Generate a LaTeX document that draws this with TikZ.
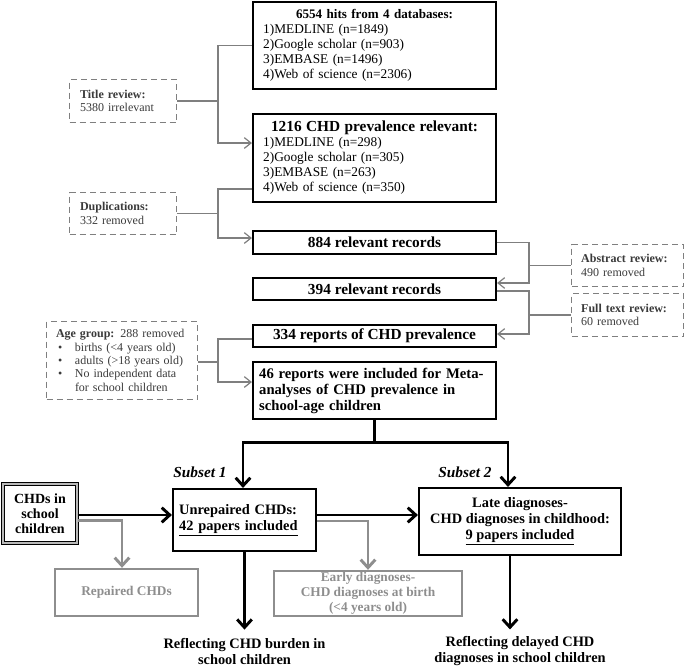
\documentclass[tikz,border=0pt]{standalone}
\usepackage{fontspec}
\setmainfont{Liberation Serif}
\usetikzlibrary{arrows.meta,calc}
\definecolor{lgray}{HTML}{7F7F7F}
\definecolor{tgray}{HTML}{3A3A3A}
\definecolor{bgray}{HTML}{8E8E8E}
\begin{document}
\begin{tikzpicture}[x=0.75pt,y=-0.75pt,
  mainbox/.style={draw=black, line width=1.6pt, inner sep=0pt, minimum width=182.25pt, font=\fontsize{11.5}{12}\selectfont\bfseries},
  dbox/.style={draw=lgray, dash pattern=on 4.5pt off 3pt, line width=0.9pt, inner sep=0pt, text=tgray, align=left, font=\fontsize{9}{10}\selectfont},
  bbox/.style={draw=black, line width=1.6pt, inner sep=0pt, font=\fontsize{10.8}{12}\selectfont\bfseries},
  gbox/.style={draw=bgray, line width=1.8pt, inner sep=0pt, text=bgray, align=center, font=\fontsize{10}{11.25}\selectfont\bfseries},
  gline/.style={draw=lgray, line width=0.9pt},
  garrow/.style={gline, -{Straight Barb[length=5pt,width=8pt,line width=0.9pt]}},
  bline/.style={draw=black, line width=2.2pt},
  barrow/.style={bline, -{Straight Barb[length=6pt,width=11pt]}},
  grarrow/.style={draw=bgray, line width=2.2pt, -{Straight Barb[length=6pt,width=11pt]}},
  outtext/.style={inner sep=0pt, align=center, font=\fontsize{10.8}{12}\selectfont\bfseries},
  subset/.style={inner sep=0pt, font=\fontsize{11.5}{12}\selectfont\bfseries\itshape}
]
\useasboundingbox (0,0) rectangle (685,668);

% main column
\node[mainbox, minimum height=65.25pt, text width=167pt, align=left, font=\fontsize{10}{11.25}\selectfont] (b1) at (374.5,45.5)
 {\makebox[167pt][c]{\fontsize{9.8}{11.25}\selectfont\bfseries 6554 hits from 4 databases:}\\1)MEDLINE (n=1849)\\2)Google scholar (n=903)\\3)EMBASE (n=1496)\\4)Web of science (n=2306)};
\node[mainbox, minimum height=66pt, text width=167pt, align=left, font=\fontsize{10}{11.25}\selectfont] (b2) at (374.5,158)
 {\makebox[167pt][c]{\fontsize{11.5}{11.25}\selectfont\bfseries 1216 CHD prevalence relevant:}\\1)MEDLINE (n=298)\\2)Google scholar (n=305)\\3)EMBASE (n=263)\\4)Web of science (n=350)};
\node[mainbox, minimum height=17.25pt] (b3) at (374.5,242.5) {884 relevant records};
\node[mainbox, minimum height=16.5pt] (b4) at (374.5,289) {394 relevant records};
\node[mainbox, minimum height=16.5pt] (b5) at (374.5,336) {334 reports of CHD prevalence};
\node[mainbox, minimum height=42.75pt, text width=173pt, align=left, font=\fontsize{11}{12}\selectfont\bfseries] (b6) at (374.5,390.5)
 {46 reports were included for Meta-\\analyses of CHD prevalence in\\school-age children};

% dashed side boxes
\node[dbox, minimum width=80.25pt, minimum height=32.25pt, text width=64.4pt] (t1) at (123,101)
 {\textbf{Title review:}\\5380 irrelevant};
\node[dbox, minimum width=80.25pt, minimum height=31.5pt, text width=64.4pt] (dup) at (123,213.5)
 {\textbf{Duplications:}\\332 removed};
\node[dbox, minimum width=113.25pt, minimum height=58.5pt, text width=99pt] (age) at (122,360.5)
 {\textbf{Age group:} 288 removed\\
  \hspace*{1.5pt}\makebox[12.75pt][l]{\textbullet}births (<4 years old)\\
  \hspace*{1.5pt}\makebox[12.75pt][l]{\textbullet}adults (>18 years old)\\
  \hspace*{1.5pt}\makebox[12.75pt][l]{\textbullet}No independent data\\
  \hspace*{14.25pt}for school children};
\node[dbox, minimum width=84pt, minimum height=31.5pt, text width=69.8pt] (abs) at (627.75,265.5)
 {\textbf{Abstract review:}\\490 removed};
\node[dbox, minimum width=84pt, minimum height=32.25pt, text width=69.8pt] (full) at (627.75,315)
 {\textbf{Full text review:}\\60 removed};

% left bus
\coordinate (k1) at (218,143);
\coordinate (k2) at (218,238);
\coordinate (k3) at (218,382);
\draw[garrow] (b1.west) -| (k1) -- (k1 -| b2.west);
\draw[gline] (t1.east) -- (t1.east -| k1);
\coordinate (s2) at ($(b2.west)+(0,31)$);
\draw[garrow] (s2) -| (k2) -- (k2 -| b3.west);
\draw[gline] (dup.east) -- (dup.east -| k2);
\coordinate (s3) at ($(b5.west)+(0,3)$);
\draw[garrow] (s3) -| (k3) -- (k3 -| b6.west);
\coordinate (a3) at ($(age.east)+(0,1.5)$);
\draw[gline] (a3) -- (a3 -| k3);

% right bus
\coordinate (k4) at (529,283);
\coordinate (k5) at (529,334);
\draw[garrow] (b3.east) -| (k4) -- (k4 -| b4.east);
\draw[gline] (abs.west) -- (abs.west -| k4);
\coordinate (s5) at ($(b4.east)+(0,2)$);
\draw[garrow] (s5) -| (k5) -- (k5 -| b5.east);
\draw[gline] (full.west) -- (full.west -| k5);

% bottom part
\node[subset] (sub1) at (200,472) {Subset 1};
\node[subset] (sub2) at (465,472) {Subset 2};
\node[draw=black, line width=0.8pt, double=gray!55, double distance=1.6pt, inner sep=0pt,
      minimum width=55.5pt, minimum height=44.25pt, align=center,
      font=\fontsize{10.5}{11.25}\selectfont\bfseries] (chds) at (40,513.5) {CHDs in\\school\\children};
\node[bbox, minimum width=107.25pt, minimum height=46.5pt, text width=98pt, align=left] (unrep) at (244.5,520)
 {Unrepaired CHDs:\\\underline{42 papers included}};
\node[bbox, minimum width=151.5pt, minimum height=50.25pt, align=center] (late) at (520,521.5)
 {Late diagnoses-\\CHD diagnoses in childhood:\\\underline{9 papers included}};
\node[gbox, minimum width=107.25pt, minimum height=35.25pt] (rep) at (126.5,592.5) {Repaired CHDs};
\node[gbox, minimum width=141pt, minimum height=33.75pt] (early) at (368,593.5)
 {Early diagnoses-\\CHD diagnoses at birth\\(<4 years old)};
\node[outtext] (r1) at (244.5,651) {Reflecting CHD burden in\\school children};
\node[outtext] (r2) at (520,651) {Reflecting delayed CHD\\diagnoses in school children};

\coordinate (split) at ($(b6.south)+(0,22.5)$);
\draw[bline] (b6.south) -- (split);
\draw[barrow] (split) -| ($(unrep.north)+(-1.5,0)$);
\draw[barrow] (split) -| ($(late.north)+(-12,0)$);

\coordinate (c1) at ($(chds.east)+(0,1.5)$);
\draw[barrow] (c1) -- (c1 -| unrep.west);
\coordinate (c2) at ($(chds.east)+(0,7)$);
\draw[grarrow] (c2) -| ($(rep.north)+(-4.5,0)$);
\coordinate (u1) at ($(unrep.east)+(0,-5)$);
\draw[barrow] (u1) -- (u1 -| late.west);
\coordinate (u2) at ($(unrep.east)+(0,1)$);
\draw[grarrow] (u2) -| (early.north);

\draw[barrow, shorten >=6pt] (unrep.south) -- (r1.north);
\draw[barrow, shorten >=5pt] ($(late.south)+(-10,0)$) -- ($(r2.north)+(-10,0)$);
\end{tikzpicture}
\end{document}
